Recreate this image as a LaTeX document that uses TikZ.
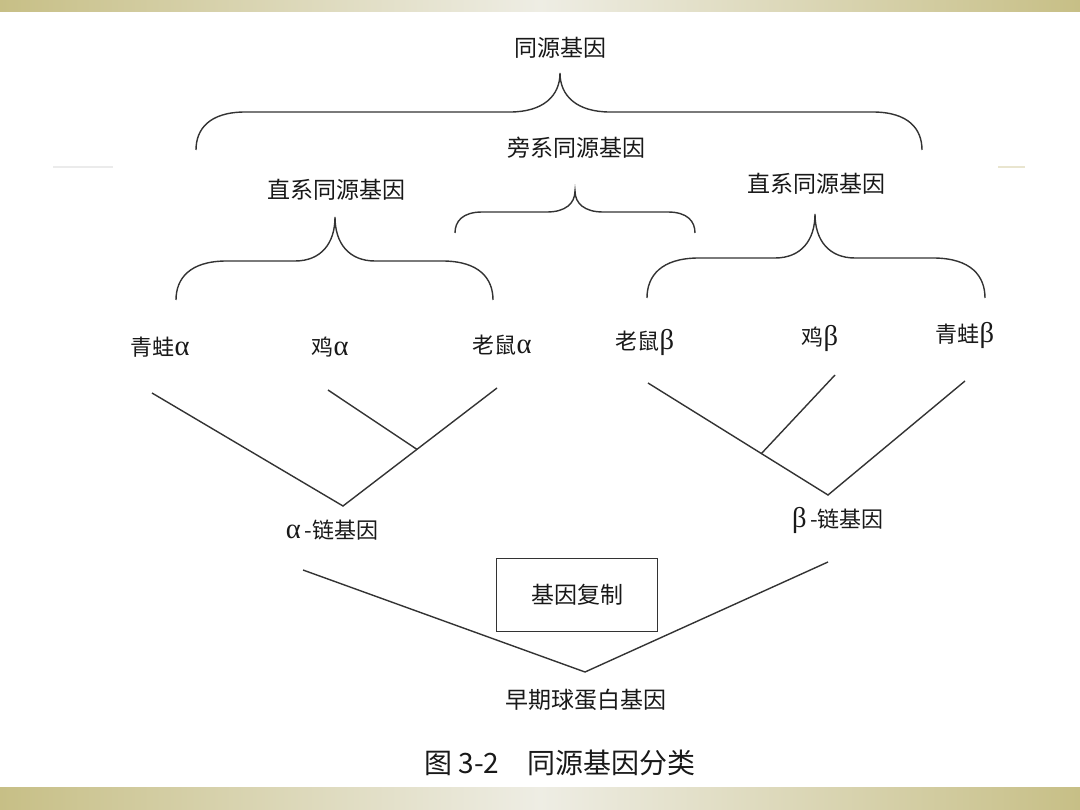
\documentclass[tikz,border=0pt]{standalone}
\usepackage{fontspec}
\usetikzlibrary{calc}
\setmainfont{Liberation Serif}
\newfontfamily\cjk{Noto Sans CJK SC}
\newfontfamily\grk[Scale=1.3]{Liberation Serif}
\newcommand\mybrace[7]{% xl, xr, xt, yend, yh, ytip, s
  \draw[ln] (#1,#4) .. controls (#1,{#5+0.45*(#4-#5)}) and ({#1+0.35*(#4-#5)},#5) .. ({#1+1.3*(#4-#5)},#5)
    -- ({#3-#7},#5) .. controls ({#3-0.35*#7},#5) and (#3,{#5-0.4*(#5-#6)}) .. (#3,#6)
    .. controls (#3,{#5-0.4*(#5-#6)}) and ({#3+0.35*#7},#5) .. ({#3+#7},#5)
    -- ({#2-1.3*(#4-#5)},#5) .. controls ({#2-0.35*(#4-#5)},#5) and (#2,{#5+0.45*(#4-#5)}) .. (#2,#4);}
\begin{document}
\begin{tikzpicture}[x=1pt,y=-1pt,
  txt/.style={inner sep=0pt, text=black!90, font=\cjk\fontsize{22}{26}\selectfont},
  big/.style={txt, font=\cjk\fontsize{23}{26}\selectfont},
  ln/.style={line width=1.4pt, draw=black!80},
  bar/.style={left color=barc, right color=barc, middle color=barm}]
\definecolor{barc}{RGB}{199,191,134}
\definecolor{barm}{RGB}{238,237,228}
\useasboundingbox (0,0) rectangle (1080,810);
\fill[white] (0,0) rectangle (1080,810);
\shade[bar] (0,0) rectangle (1080,12);
\shade[bar] (0,787) rectangle (1080,810);
\draw[line width=1.5pt, draw=black!8] (53,167) -- (113,167);
\draw[line width=1.5pt, draw=barc!40] (998,167) -- (1025,167);

% labels
\node[big] (hom) at (560,48) {同源基因};
\node[big] (para) at (576,148) {旁系同源基因};
\node[big] (orthL) at (336,190) {直系同源基因};
\node[big] (orthR) at (816,184) {直系同源基因};

% braces
\mybrace{196}{922}{560}{150}{112}{73}{50}
\mybrace{455}{695}{575}{233}{212}{191}{28}
\mybrace{176}{493}{335}{300}{261}{217}{40}
\mybrace{647}{985}{815}{298}{258}{214}{40}

% leaves
\node[txt] (frogA) at (160,347) {青蛙{\grk α}};
\node[txt] (chickA) at (330,347) {鸡{\grk α}};
\node[txt] (mouseA) at (502,345) {老鼠{\grk α}};
\node[txt] (mouseB) at (645,342) {老鼠{\grk β}};
\node[txt] (chickB) at (820,338) {鸡{\grk β}};
\node[txt] (frogB) at (965,335) {青蛙{\grk β}};

% alpha tree
\coordinate (a1) at (152,393);
\coordinate (a2) at (328,390);
\coordinate (a3) at (497,388);
\coordinate (aroot) at (343,506);
\coordinate (aj) at ($(a3)!0.52!(aroot)$);
\draw[ln] (a1) -- (aroot) -- (a3);
\draw[ln] (a2) -- (aj);
\node[txt] (chainA) at (332,530) {{\grk α}\,-链基因};

% beta tree
\coordinate (b1) at (648,383);
\coordinate (b2) at (835,375);
\coordinate (b3) at (965,381);
\coordinate (broot) at (828,495);
\coordinate (bj) at ($(b1)!0.63!(broot)$);
\draw[ln] (b1) -- (broot) -- (b3);
\draw[ln] (b2) -- (bj);
\node[txt] (chainB) at (838,520) {{\grk β}\,-链基因};

% bottom V
\coordinate (c1) at (303,570);
\coordinate (c2) at (828,562);
\coordinate (croot) at (585,672);
\draw[ln] (c1) -- (croot) -- (c2);
\node[txt, draw=black!80, line width=1.4pt, minimum width=161pt, minimum height=73pt, font=\cjk\fontsize{23}{26}\selectfont] (dup) at (577,595) {基因复制};
\node[big] (early) at (586,700) {早期球蛋白基因};

% caption
\node[txt, font=\cjk\fontsize{28}{30}\selectfont] (cap) at (560,763) {图 3-2\quad 同源基因分类};
\end{tikzpicture}
\end{document}
